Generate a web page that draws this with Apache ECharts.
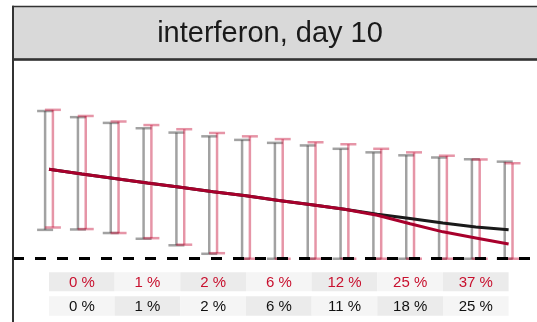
<!DOCTYPE html>
<html>
<head>
<meta charset="utf-8">
<script src="https://cdn.jsdelivr.net/npm/echarts@6/dist/echarts.min.js"></script>
<style>
  html, body { margin: 0; padding: 0; background: #ffffff; }
  #chart { width: 537px; height: 322px; }
</style>
</head>
<body>
<div id="chart"></div>
<script>
// Time steps along the x axis
const steps = [0, 1, 2, 3, 4, 5, 6, 7, 8, 9, 10, 11, 12, 13, 14];

// Interval bounds, reference model (grey)
const greyUpper = [74.7, 71.6, 68.7, 66.0, 63.8, 61.9, 60.1, 58.6, 57.3, 55.6, 53.8, 52.3, 51.2, 50.3, 49.1];
const greyLower = [14.6, 14.8, 13.0, 10.1, 6.8, 2.5, 0, 0, 0, 0, 0, 0, 0, 0, 0];

// Interval bounds, interferon model (red)
const redUpper = [75.3, 72.2, 69.4, 67.6, 65.5, 63.6, 61.9, 60.5, 58.9, 57.9, 55.6, 53.8, 52.1, 50.2, 48.3];
const redLower = [15.8, 15.0, 13.0, 10.4, 7.1, 2.8, 0, 0, 0, 0, 0, 0, 0, 0, 0];

// Point estimates
const blackMean = [45.3, 42.9, 40.6, 38.3, 36.1, 33.9, 31.8, 29.5, 27.3, 25.0, 22.5, 20.3, 18.1, 16.1, 14.6];
const redMean   = [45.3, 42.9, 40.6, 38.3, 36.1, 33.9, 31.8, 29.5, 27.3, 25.0, 22.0, 17.7, 13.6, 10.5, 7.4];

// Summary table underneath
const tableSteps = [1, 3, 5, 7, 9, 11, 13];
const redPct   = [0, 1, 2, 6, 12, 25, 37];
const blackPct = [0, 1, 2, 6, 11, 18, 25];

const FONT = "'Liberation Sans', Arial, Helvetica, sans-serif";
const GREY = 'rgba(70,70,70,0.5)';
const PINK = 'rgba(200,20,60,0.45)';

// x: one step = 32.83 px, step 0 sits 36 px right of the panel edge
const PX_PER_STEP = 32.83;
const GRID_LEFT = 13, GRID_WIDTH = 524;
const X_MIN = -36 / PX_PER_STEP;
const X_MAX = X_MIN + GRID_WIDTH / PX_PER_STEP;

// table rows in y-axis units (below the zero line)
const ROWS = [
  { top: -6.9, bottom: -16.5, color: '#c8102e' },
  { top: -19.0, bottom: -28.8, color: '#111111' }
];

function errorBars(offset) {
  return function (params, api) {
    const x = api.value(0), lo = api.value(1), hi = api.value(2);
    const pt = api.coord([x, hi]);
    const pb = api.coord([x, lo]);
    const cx = pt[0] + offset;
    const half = 8;
    const style = { stroke: api.visual('color'), lineWidth: 2.5, lineCap: 'butt' };
    return {
      type: 'group',
      children: [
        { type: 'line', shape: { x1: cx, y1: pt[1], x2: cx, y2: pb[1] }, style },
        { type: 'line', shape: { x1: cx - half, y1: pt[1], x2: cx + half, y2: pt[1] }, style },
        { type: 'line', shape: { x1: cx - half, y1: pb[1], x2: cx + half, y2: pb[1] }, style }
      ]
    };
  };
}

function tableCell(params, api) {
  const x = api.value(0), row = api.value(1), k = api.value(2);
  const label = api.value(3) + ' %';
  const r = ROWS[row];
  const p1 = api.coord([x - 1, r.top]);
  const p2 = api.coord([x + 1, r.bottom]);
  const fill = ((k + row) % 2 === 0) ? '#ebebeb' : '#f5f5f5';
  return {
    type: 'group',
    children: [
      { type: 'rect', shape: { x: p1[0], y: p1[1], width: p2[0] - p1[0], height: p2[1] - p1[1] },
        style: { fill: fill } },
      { type: 'text',
        style: { text: label, x: (p1[0] + p2[0]) / 2, y: (p1[1] + p2[1]) / 2 + 0.5,
                 align: 'center', verticalAlign: 'middle',
                 textAlign: 'center', textVerticalAlign: 'middle',
                 font: '15px ' + FONT, fill: r.color } }
    ]
  };
}

const tableData = [];
tableSteps.forEach((s, k) => {
  tableData.push([s, 0, k, redPct[k]]);
  tableData.push([s, 1, k, blackPct[k]]);
});

const chart = echarts.init(document.getElementById('chart'), null, { renderer: 'canvas' });

chart.setOption({
  animation: false,
  backgroundColor: '#ffffff',
  grid: { left: GRID_LEFT, top: 61, width: GRID_WIDTH, height: 261.36, containLabel: false },
  xAxis: { type: 'value', min: X_MIN, max: X_MAX, show: false },
  yAxis: { type: 'value', min: -32, max: 100, show: false },
  graphic: [
    { type: 'rect', shape: { x: 13, y: 6.5, width: 600, height: 53 },
      style: { fill: '#d9d9d9', stroke: '#333333', lineWidth: 1.5 }, z: 10 },
    { type: 'line', shape: { x1: 13, y1: 59.5, x2: 600, y2: 59.5 },
      style: { stroke: '#333333', lineWidth: 2.5 }, z: 11 },
    { type: 'line', shape: { x1: 13, y1: 5.8, x2: 13, y2: 330 },
      style: { stroke: '#333333', lineWidth: 2 }, z: 11 },
    { type: 'text', x: 270, y: 34,
      style: { text: 'interferon, day 10', font: '29px ' + FONT, fill: '#1a1a1a',
               align: 'center', verticalAlign: 'middle',
               textAlign: 'center', textVerticalAlign: 'middle' }, z: 12 }
  ],
  series: [
    {
      type: 'custom', name: 'table', renderItem: tableCell,
      data: tableData, clip: false, z: 1
    },
    {
      type: 'custom', name: 'grey interval', renderItem: errorBars(-3.9),
      itemStyle: { color: GREY },
      data: steps.map((s, i) => [s, greyLower[i], greyUpper[i]]), clip: false, z: 2
    },
    {
      type: 'custom', name: 'red interval', renderItem: errorBars(3.9),
      itemStyle: { color: PINK },
      data: steps.map((s, i) => [s, redLower[i], redUpper[i]]), clip: false, z: 3
    },
    {
      type: 'line', name: 'black mean', data: steps.map((s, i) => [s, blackMean[i]]),
      showSymbol: false, symbol: 'none',
      lineStyle: { color: '#1a1a1a', width: 3 }, z: 4,
      markLine: {
        silent: true, symbol: 'none', label: { show: false },
        lineStyle: { color: '#000000', width: 3, type: [11, 11] },
        data: [{ yAxis: 0 }]
      }
    },
    {
      type: 'line', name: 'red mean', data: steps.map((s, i) => [s, redMean[i]]),
      showSymbol: false, symbol: 'none',
      lineStyle: { color: '#a8002c', width: 3 }, z: 5
    }
  ]
});
</script>
</body>
</html>
